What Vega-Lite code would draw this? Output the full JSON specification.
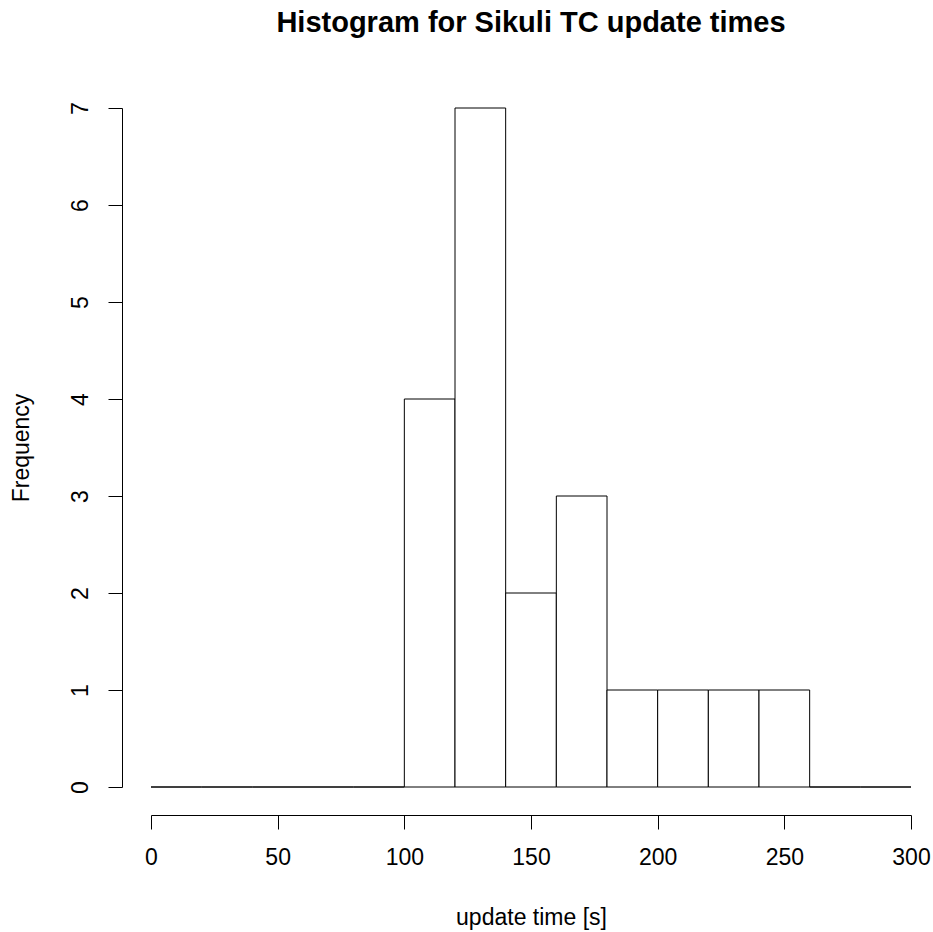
{
  "$schema": "https://vega.github.io/schema/vega-lite/v6.json",
  "width": 760,
  "height": 679,
  "autosize": {"type": "none"},
  "padding": {"left": 151, "top": 108, "right": 22, "bottom": 145},
  "background": "white",
  "config": {"view": {"stroke": null}, "font": "Liberation Sans"},
  "title": {
    "text": "Histogram for Sikuli TC update times",
    "fontSize": 29,
    "fontWeight": "bold",
    "font": "Liberation Sans",
    "anchor": "middle",
    "baseline": "alphabetic",
    "offset": 41,
    "color": "black"
  },
  "data": {
    "values": [
      {"start": 0, "end": 20, "count": 0},
      {"start": 20, "end": 40, "count": 0},
      {"start": 40, "end": 60, "count": 0},
      {"start": 60, "end": 80, "count": 0},
      {"start": 80, "end": 100, "count": 0},
      {"start": 100, "end": 120, "count": 4},
      {"start": 120, "end": 140, "count": 7},
      {"start": 140, "end": 160, "count": 2},
      {"start": 160, "end": 180, "count": 3},
      {"start": 180, "end": 200, "count": 1},
      {"start": 200, "end": 220, "count": 1},
      {"start": 220, "end": 240, "count": 1},
      {"start": 240, "end": 260, "count": 1},
      {"start": 260, "end": 280, "count": 0},
      {"start": 280, "end": 300, "count": 0}
    ]
  },
  "mark": {"type": "rect", "fill": "white", "stroke": "black", "strokeWidth": 1},
  "encoding": {
    "x": {
      "field": "start",
      "type": "quantitative",
      "scale": {"domain": [0, 300], "nice": false, "zero": false},
      "axis": {
        "values": [0, 50, 100, 150, 200, 250, 300],
        "offset": 28,
        "tickSize": 14,
        "grid": false,
        "domainColor": "black",
        "tickColor": "black",
        "labelColor": "black",
        "labelFontSize": 23,
        "labelPadding": 17,
        "labelFlush": false,
        "title": "update time [s]",
        "titleFontSize": 23,
        "titleFontWeight": "normal",
        "titleColor": "black",
        "titlePadding": 37
      }
    },
    "x2": {"field": "end"},
    "y": {
      "field": "count",
      "type": "quantitative",
      "scale": {"domain": [0, 7], "nice": false},
      "axis": {
        "values": [0, 1, 2, 3, 4, 5, 6, 7],
        "offset": 29,
        "tickSize": 14,
        "grid": false,
        "domainColor": "black",
        "tickColor": "black",
        "labelColor": "black",
        "labelFontSize": 23,
        "labelAngle": -90,
        "labelAlign": "center",
        "labelBaseline": "bottom",
        "labelPadding": 16,
        "labelFlush": false,
        "title": "Frequency",
        "titleFontSize": 23,
        "titleFontWeight": "normal",
        "titleColor": "black",
        "titlePadding": 36
      }
    },
    "y2": {"datum": 0}
  }
}
